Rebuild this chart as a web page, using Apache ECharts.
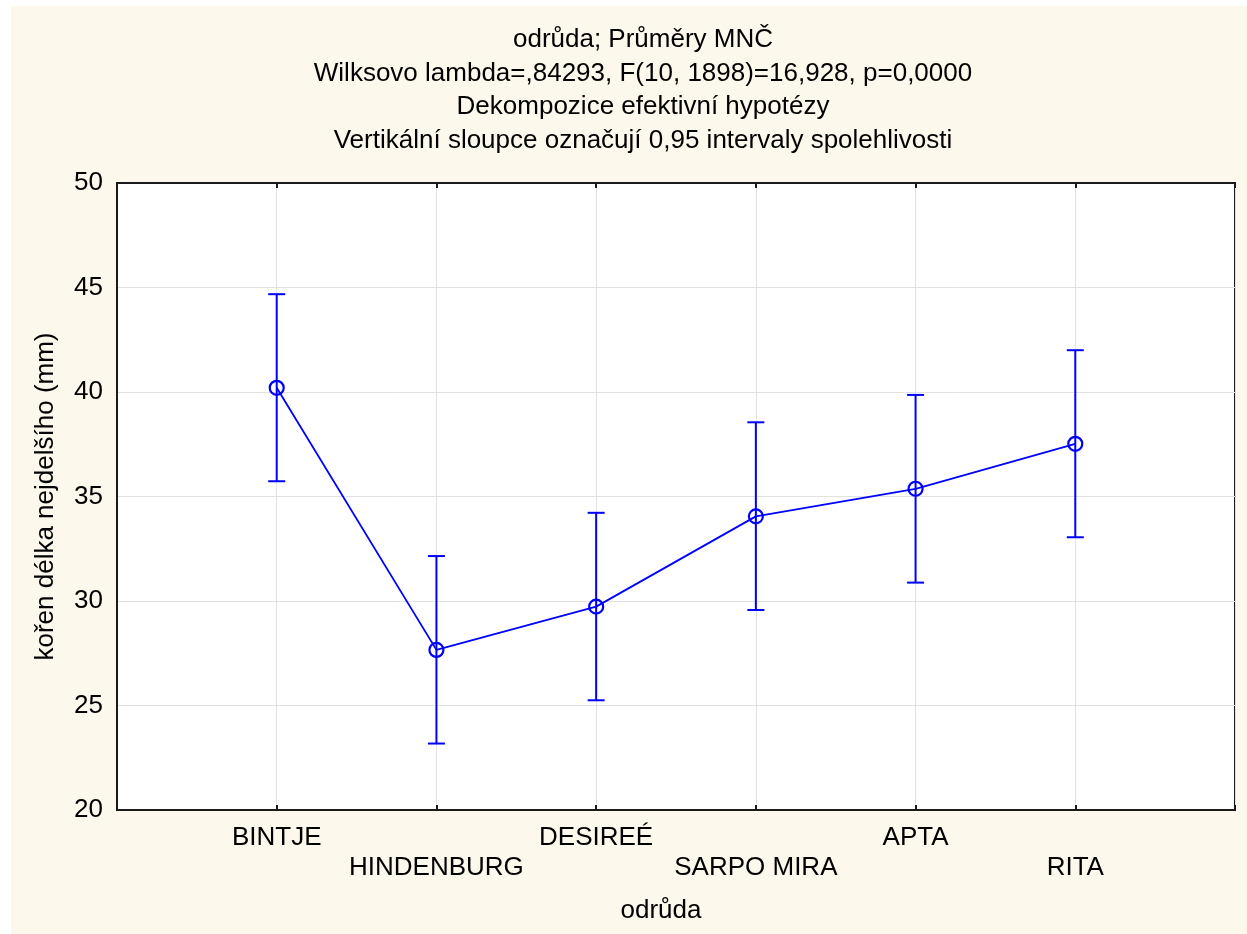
<!DOCTYPE html>
<html>
<head>
<meta charset="utf-8">
<script src="https://cdn.jsdelivr.net/npm/echarts@6/dist/echarts.min.js"></script>
<style>
  html, body { margin: 0; padding: 0; background: #ffffff; }
  #chart { width: 1247px; height: 934px; }
</style>
</head>
<body>
<div id="chart"></div>
<script>
// Varieties on the x axis
const categories = ['BINTJE', 'HINDENBURG', 'DESIREÉ', 'SARPO MIRA', 'APTA', 'RITA'];
// Least-squares means of root length (mm)
const means = [40.2, 27.66, 29.73, 34.05, 35.37, 37.52];
// 0.95 confidence limits
const lower = [35.73, 23.18, 25.25, 29.57, 30.88, 33.05];
const upper = [44.68, 32.15, 34.22, 38.55, 39.86, 42.0];
// Value axis ticks
const yTicks = [20, 25, 30, 35, 40, 45, 50];

const titleLines = [
  'odrůda; Průměry MNČ',
  'Wilksovo lambda=,84293, F(10, 1898)=16,928, p=0,0000',
  'Dekompozice efektivní hypotézy',
  'Vertikální sloupce označují 0,95 intervaly spolehlivosti'
];

const FONT = '"Liberation Sans", Arial, sans-serif';
const FS = 26;
const BLUE = '#0000ff';

// padded category list so the first/last variety sits one slot in from the frame
const axisCats = [''].concat(categories, ['']);
const lineData = means.map((m, i) => [i + 1, m]);
const barData = means.map((m, i) => [i + 1, lower[i], upper[i]]);

const chart = echarts.init(document.getElementById('chart'), null, { renderer: 'canvas' });

chart.setOption({
  animation: false,
  graphic: [
    {
      type: 'rect', z: -10, silent: true,
      shape: { x: 11, y: 6, width: 1236, height: 928 },
      style: { fill: '#fdf8ec' }
    },
    {
      type: 'text', silent: true,
      x: 643, y: 23,
      style: {
        text: titleLines.join('\n'),
        font: FS + 'px ' + FONT,
        fill: '#000',
        align: 'center',
        lineHeight: 33.6
      }
    }
  ],
  grid: {
    left: 117, right: 12, top: 183, bottom: 124,
    show: true, backgroundColor: '#ffffff',
    borderColor: '#1a1a1a', borderWidth: 2
  },
  xAxis: [
    {
      type: 'category', data: axisCats, boundaryGap: false,
      position: 'bottom',
      name: 'odrůda', nameLocation: 'middle', nameGap: 88,
      nameTextStyle: { fontFamily: FONT, fontSize: FS, color: '#000', padding: [0, 30, 0, 0] },
      axisLine: { lineStyle: { color: '#1a1a1a', width: 2 } },
      axisTick: { inside: true, length: 5, interval: 0, lineStyle: { color: '#1a1a1a', width: 2 } },
      axisLabel: {
        interval: 0, margin: 13, color: '#000', fontFamily: FONT, fontSize: FS, lineHeight: 30,
        formatter: (v, i) => (i % 2 === 0 ? '\n' + v : v)
      },
      splitLine: { show: true, lineStyle: { color: '#e2e2e2', width: 1 } }
    },
    {
      type: 'category', data: axisCats, boundaryGap: false,
      position: 'top',
      axisLine: { lineStyle: { color: '#1a1a1a', width: 2 } },
      axisTick: { inside: true, length: 5, interval: 0, lineStyle: { color: '#1a1a1a', width: 2 } },
      axisLabel: { show: false },
      splitLine: { show: false }
    }
  ],
  yAxis: {
    type: 'value', min: yTicks[0], max: yTicks[yTicks.length - 1], interval: 5,
    name: 'kořen délka nejdelšího (mm)', nameLocation: 'middle', nameGap: 58,
    nameTextStyle: { fontFamily: FONT, fontSize: FS, color: '#000' },
    axisLine: { show: true, lineStyle: { color: '#1a1a1a', width: 2 } },
    axisTick: { show: false },
    axisLabel: { margin: 14, color: '#000', fontFamily: FONT, fontSize: FS },
    splitLine: { show: true, lineStyle: { color: '#e2e2e2', width: 1 } }
  },
  series: [
    {
      type: 'custom',
      name: 'CI',
      data: barData,
      z: 3,
      renderItem: function (params, api) {
        const x = api.value(0);
        const lo = api.coord([x, api.value(1)]);
        const hi = api.coord([x, api.value(2)]);
        const cap = 8.5;
        const style = { stroke: BLUE, lineWidth: 2, fill: null };
        return {
          type: 'group',
          children: [
            { type: 'line', shape: { x1: lo[0], y1: lo[1], x2: hi[0], y2: hi[1] }, style },
            { type: 'line', shape: { x1: lo[0] - cap, y1: lo[1], x2: lo[0] + cap, y2: lo[1] }, style },
            { type: 'line', shape: { x1: hi[0] - cap, y1: hi[1], x2: hi[0] + cap, y2: hi[1] }, style }
          ]
        };
      }
    },
    {
      type: 'line',
      name: 'Průměr',
      data: lineData,
      z: 4,
      symbol: 'circle',
      symbolSize: 14,
      showAllSymbol: true,
      lineStyle: { color: BLUE, width: 1.8 },
      itemStyle: { color: 'rgba(0,0,0,0)', borderColor: BLUE, borderWidth: 2.2 }
    }
  ]
});
</script>
</body>
</html>
